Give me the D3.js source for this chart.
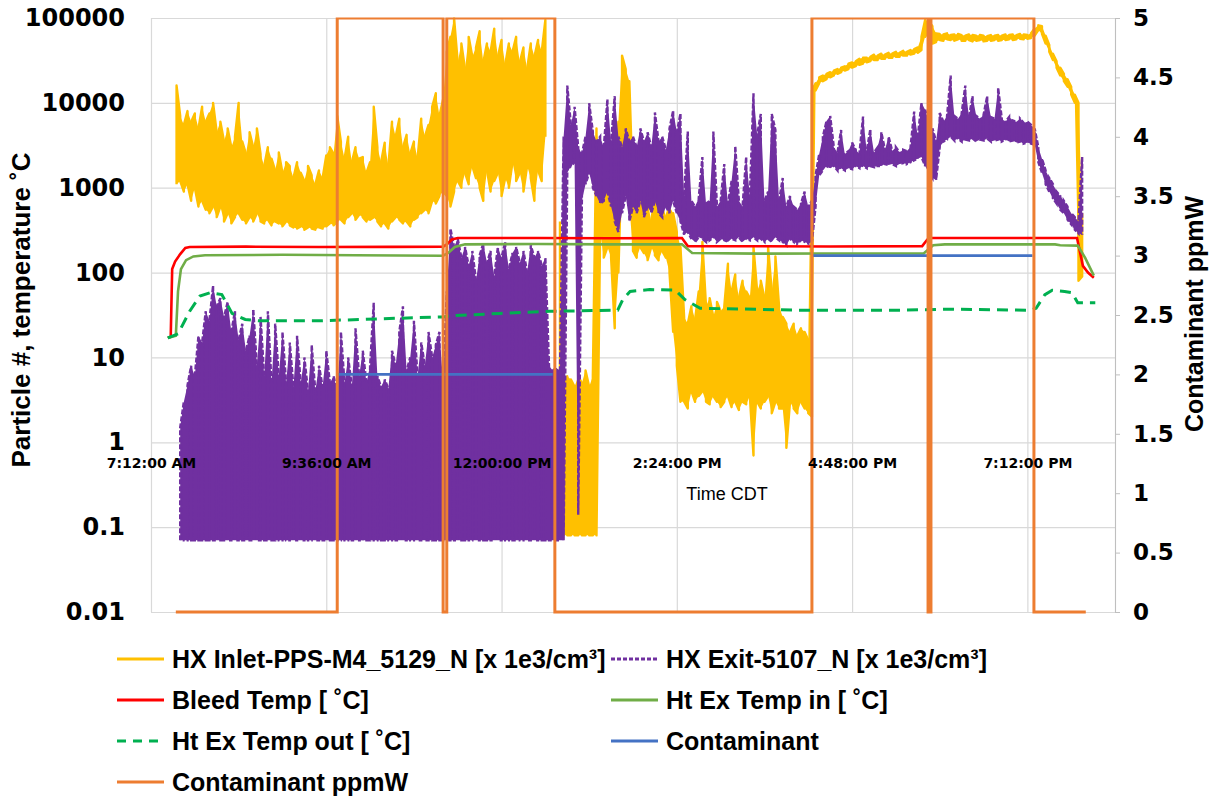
<!DOCTYPE html>
<html><head><meta charset="utf-8">
<script src="https://cdn.jsdelivr.net/npm/d3@7"></script>
<style>
html,body{margin:0;padding:0;background:#fff;}
svg{display:block;}
</style></head>
<body>
<svg id="chart" width="1214" height="800"></svg>
<script>
// ---------------- DATA ----------------
// time in hours of day (CDT)
const xTickValues = [7.2, 9.6, 12.0, 14.4, 16.8, 19.2];
const xTickLabels = ["7:12:00 AM", "9:36:00 AM", "12:00:00 PM", "2:24:00 PM", "4:48:00 PM", "7:12:00 PM"];
const leftTickValues = [0.01, 0.1, 1, 10, 100, 1000, 10000, 100000];
const leftTickLabels = ["0.01", "0.1", "1", "10", "100", "1000", "10000", "100000"];
const rightTickValues = [0, 0.5, 1, 1.5, 2, 2.5, 3, 3.5, 4, 4.5, 5];
const rightTickLabels = ["0", "0.5", "1", "1.5", "2", "2.5", "3", "3.5", "4", "4.5", "5"];

// particle counters, read as (high, low) per 0.05 h sample bin starting at 7.55 h (null = no trace visible)
const binStart = 7.55, binStep = 0.05;
const inletStartBin = 0;
const inletHigh = [
16000,7000,5500,8000,6000,7500,5000,9000,6000,7500,
10000,4500,6000,3500,5000,3000,4000,10000,3500,2500,
4500,3000,5000,2500,1800,3000,2200,1600,2600,1500,
2000,1800,1300,2000,1500,1200,1800,1400,1100,1600,
1300,2400,3000,2500,7000,3500,2200,4000,2000,3000,
2200,2300,1500,2000,9000,3000,2000,3400,1800,6000,
4000,6500,3000,4200,2500,3500,2200,6500,4000,5500,
9000,13000,7000,11000,40000,60000,100000,30000,50000,25000,
60000,35000,45000,70000,30000,50000,40000,75000,35000,55000,
28000,50000,40000,60000,30000,45000,25000,50000,35000,55000,
40000,95000,null,null,null,400,5,6,5.5,4.5,
6,5,7,4.5,6,5000,2000,1500,2500,1200,
1000,6000,36000,25000,18000,800,600,900,500,700,
400,800,550,700,450,600,500,300,200,30,
25,40,28,60,230,40,50,30,45,35,
40,127,60,95,50,80,60,50,200,60,
80,50,200,60,155,40,30,25,20,25,
18,22,20,16,14000,17000,20000,21000,22000,23000,
24000,25000,26000,27000,29000,30000,31000,33000,34000,34000,
35000,37000,36000,38000,37000,39000,38000,40000,39000,41000,
40000,42000,43000,45000,60000,95000,92000,80000,66000,65000,
64000,66000,63000,64000,65000,63000,62000,64000,63000,62000,
63000,62000,61000,63000,62000,63000,62000,64000,63000,64000,
63000,65000,64000,63000,66000,75000,82000,80000,62000,48000,
38000,31000,26000,22000,19000,15500,12500,10000,500];
const inletLow = [
1100,1200,900,1100,700,1000,600,700,550,500,
600,450,600,400,500,380,450,500,420,380,
450,400,500,400,380,420,360,400,380,350,
400,360,340,330,350,320,340,330,320,340,
330,350,380,360,400,420,380,450,500,420,
480,450,400,420,450,400,350,380,330,400,
450,420,380,400,350,420,450,500,550,500,
700,650,800,900,800,600,900,1200,1000,1500,
1100,1800,1300,1000,700,1600,900,1200,1500,800,
1300,1000,2000,1200,1500,900,1800,1300,700,1600,
1200,4000,null,null,null,0.1,0.08,0.08,0.08,0.08,
0.08,0.08,0.08,0.08,0.08,0.08,300,150,200,150,
22,100,3000,1500,600,180,150,200,170,140,
200,160,140,180,150,100,20,8,3,3,
2.5,4,3,3.5,4,3,2.8,3.5,3,2.6,
3,3.5,2.6,3,2.4,3,2.8,3.5,0.7,3,
2.5,3,3.5,2.2,3,2.5,2.5,0.86,3,2.5,
2.2,3,2.5,2.2,2,14000,17000,18000,19000,20000,
21000,22000,23000,24000,25000,26000,27000,28000,29000,30000,
31000,32000,32000,33000,33000,34000,34000,35000,35000,36000,
36000,37000,38000,39000,42000,60000,70000,50000,52000,55000,
54000,56000,55000,54000,56000,54000,54000,55000,53000,54000,
55000,53000,54000,54000,55000,54000,55000,55000,56000,55000,
56000,57000,56000,57000,58000,62000,72000,65000,50000,40000,
32000,26000,21000,18000,15500,12500,10000,80,90];

const exitStartBin = 1;
const exitHigh = [
1.5,3,4.7,8,6,18,15,35,27,70,
40,50,30,45,20,35,16,25,12,18,
37,8,30,6,35,5,25,6,20,5,
15,4.5,18,5,10,4,14,4,8,4.5,
12,5,6,4,20,5,10,4.5,22,6,
12,5,8,44,6,4.5,5.5,4.3,12,8,
20,40,7,10,27,6,15,8,20,10,
14,20,5,60,330,200,250,150,200,120,
180,80,160,220,130,180,90,200,150,230,
110,170,200,130,180,100,210,150,180,120,
150,8,7,7.5,7,4000,16000,5500,9000,3000,
2500,4000,9900,4600,3500,4000,3000,11000,3500,12000,
4000,3000,5000,3500,4000,3000,5000,3500,4500,3000,
7700,3500,4000,2800,5000,8100,4500,7500,800,4600,
700,600,750,2300,650,700,4600,600,700,1900,
650,1200,3100,700,600,2300,800,13000,4200,7400,
700,900,7400,4800,700,1300,600,800,600,550,
650,900,600,700,1400,2500,4000,6100,7000,3000,
2600,4800,2500,2700,3400,2800,2500,6900,2700,4900,
2600,3000,4500,2800,4000,2700,3000,2600,2800,2700,
3000,7900,4000,10000,8300,6000,5000,3500,7600,6000,
7000,21000,7000,6500,7500,16000,6800,12000,7000,6500,
7200,12000,6800,6500,15000,6500,6000,6800,6200,6000,
6500,5800,6000,5500,5000,3000,2200,1600,1300,1100,
900,800,700,600,500,450,400,2300];
const exitLow = [
0.07,0.07,0.07,0.07,0.07,0.07,0.07,0.07,0.07,0.07,
0.07,0.07,0.07,0.07,0.07,0.07,0.07,0.07,0.07,0.07,
0.07,0.07,0.07,0.07,0.07,0.07,0.07,0.07,0.07,0.07,
0.07,0.07,0.07,0.07,0.07,0.07,0.07,0.07,0.07,0.07,
0.07,0.07,0.07,0.07,0.07,0.07,0.07,0.07,0.07,0.07,
0.07,0.07,0.07,0.07,0.07,0.07,0.07,0.07,0.07,0.07,
0.07,0.07,0.07,0.07,0.07,0.07,0.07,0.07,0.07,0.07,
0.07,0.07,0.07,0.07,0.07,0.07,0.07,0.07,0.07,0.07,
0.07,0.07,0.07,0.07,0.07,0.07,0.07,0.07,0.07,0.07,
0.07,0.07,0.07,0.07,0.07,0.07,0.07,0.07,0.07,0.07,
0.07,0.07,0.07,0.07,0.07,0.07,1500,1800,2000,0.14,
700,1100,1500,1000,800,650,700,900,600,400,
300,500,800,400,600,500,700,450,600,500,
700,500,450,600,500,700,500,400,280,300,
250,230,260,250,230,240,260,230,250,240,
230,250,240,260,230,250,240,260,240,250,
230,250,230,260,240,230,210,250,230,220,
240,230,220,230,600,1400,1600,1800,1700,1800,
1600,1700,1600,1700,1650,1800,1700,1800,1700,1800,
1750,1800,1800,1900,1850,1900,1800,1900,1950,1900,
2000,2100,2200,2300,1800,1500,1300,1240,3000,3500,
3700,4000,3600,3800,3500,3700,3600,3800,3500,3700,
3600,3800,3500,3600,3700,3500,3700,3500,3600,3400,
3500,3300,3400,3300,3200,2000,1500,1100,900,750,
650,550,500,420,370,320,290,280];

// temperatures (left axis)
const bleedTime = [7.43,7.47,7.49,7.53,7.60,7.67,7.73,8.5,9.5,10.5,11.20,11.25,11.32,11.40,12.5,13.5,14.47,14.55,15.5,16.5,17.76,17.83,17.89,19.0,19.88,19.96,20.03,20.11];
const bleedTemp = [17,17.5,110,135,165,195,200,202,200,201,202,215,245,255,256,254,255,205,204,203,205,245,256,256,256,120,100,87];
const hxInTime = [7.43,7.54,7.57,7.61,7.68,7.78,7.94,9.0,10.0,11.20,11.27,11.36,11.50,12.5,13.5,14.47,14.61,15.5,16.5,17.78,17.91,18.07,19.0,19.58,19.65,19.89,19.99,20.11];
const hxInTemp = [17,18,60,110,140,155,160,162,160,158,170,200,215,217,215,215,170,167,168,168,210,215,215,215,210,208,150,92];
const hxOutTime = [7.43,7.57,7.73,7.87,8.01,8.17,8.31,8.49,8.69,9.5,10.61,11.20,11.29,11.98,12.66,13.59,13.66,13.76,14.03,14.38,14.51,14.72,16.09,17.46,18.15,19.24,19.32,19.44,19.54,19.71,19.81,19.89,20.13];
const hxOutTemp = [17,19,35,53,58,55,33,28,27,27,29,30,31,33,35,36,48,60,63,62,48,38,36,36,37,36,38,55,62,60,58,44,44];

// contaminant (right axis, ppmW)
const contamTime = [9.75,12.70,12.70,16.25,19.27];
const contamValue = [2,2,null,3,3];
const ppmTime = [7.54,9.75,9.75,11.20,11.20,11.25,11.25,12.73,12.73,16.25,16.25,17.84,17.84,17.88,17.88,19.29,19.29,20.0];
const ppmValue = [0,0,5,5,0,0,5,5,0,0,5,5,0,0,5,5,0,0];

const seriesNames = ["HX Inlet-PPS-M4_5129_N [x 1e3/cm\u00B3]", "HX Exit-5107_N [x 1e3/cm\u00B3]",
  "Bleed Temp [ \u02DAC]", "Ht Ex Temp in [ \u02DAC]", "Ht Ex Temp out [ \u02DAC]", "Contaminant", "Contaminant ppmW"];

// ---------------- CHART ----------------
const svg = d3.select("#chart");
svg.append("rect").attr("width",1214).attr("height",800).attr("fill","#fff");
const L = 151, R = 1115, T = 18, B = 612;
const x = d3.scaleLinear().domain([7.2, 20.4]).range([L, R]);
const yL = d3.scaleLog().domain([0.01, 100000]).range([B, T]);
const yR = d3.scaleLinear().domain([0, 5]).range([B, T]);

const colors = {inlet:"#FFC000", exit:"#7030A0", bleed:"#FF0000", hxin:"#70AD47", hxout:"#00B050", contam:"#4472C4", ppm:"#ED7D31"};
const tickFont = "'DejaVu Sans', sans-serif";
const textFont = "'Liberation Sans', Arial, sans-serif";

// grid
const grid = svg.append("g");
grid.append("g").attr("transform",`translate(${L},0)`)
  .call(d3.axisLeft(yL).tickValues(leftTickValues).tickSize(-(R-L)).tickFormat(""))
  .call(g=>g.select(".domain").remove())
  .call(g=>g.selectAll("line").attr("stroke","#D9D9D9").attr("stroke-width",1.2));
grid.append("g").attr("transform",`translate(0,${B})`)
  .call(d3.axisBottom(x).tickValues(xTickValues.concat([20.4])).tickSize(-(B-T)).tickFormat(""))
  .call(g=>g.select(".domain").remove())
  .call(g=>g.selectAll("line").attr("stroke","#D9D9D9").attr("stroke-width",1.2));

// left axis labels
svg.append("g").attr("transform",`translate(${L},0)`)
  .call(d3.axisLeft(yL).tickValues(leftTickValues).tickSize(0).tickPadding(26).tickFormat((d,i)=>leftTickLabels[i]))
  .call(g=>g.select(".domain").attr("stroke","#D9D9D9"))
  .call(g=>g.selectAll("text").attr("font-family",tickFont).attr("font-weight","bold").attr("font-size",24).attr("fill","#000"));

// right axis
svg.append("g").attr("transform",`translate(${R},0)`)
  .call(d3.axisRight(yR).tickValues(rightTickValues).tickSize(5).tickPadding(13).tickFormat((d,i)=>rightTickLabels[i]))
  .call(g=>g.select(".domain").attr("stroke","#BFBFBF"))
  .call(g=>g.selectAll("line").attr("stroke","#BFBFBF"))
  .call(g=>g.selectAll("text").attr("font-family",tickFont).attr("font-weight","bold").attr("font-size",23).attr("fill","#000"));

// axis titles
svg.append("text").attr("x",727).attr("y",500).attr("text-anchor","middle")
  .attr("font-family",textFont).attr("font-size",18).attr("fill","#000").text("Time CDT");
svg.append("text").attr("transform","translate(30,310) rotate(-90)").attr("text-anchor","middle")
  .attr("font-family",textFont).attr("font-weight","bold").attr("font-size",26).attr("fill","#000")
  .text("Particle #, temperature \u02DAC");
svg.append("text").attr("transform","translate(1203,314) rotate(-90)").attr("text-anchor","middle")
  .attr("font-family",textFont).attr("font-weight","bold").attr("font-size",25).attr("fill","#000")
  .text("Contaminant ppmW");

// clip
svg.append("clipPath").attr("id","plotclip").append("rect").attr("x",L-2).attr("y",T-0.5).attr("width",R-L+4).attr("height",B-T+3);
const plot = svg.append("g").attr("clip-path","url(#plotclip)");

function bins(high, low, startBin){
  return high.map((h,k)=>({t: binStart + binStep*(startBin+k), hi: h, lo: low[k]}));
}
function bandPoints(b){
  const pts = [];
  b.forEach((d,k)=>{
    if(d.hi===null){ pts.push([d.t,null]); return; }
    if(k%2===0){ pts.push([d.t,d.lo],[d.t,d.hi]); } else { pts.push([d.t,d.hi],[d.t,d.lo]); }
  });
  return pts;
}
const lineL = d3.line().defined(d=>d[1]!==null).x(d=>x(d[0])).y(d=>yL(d[1]));
const areaL = d3.area().defined(d=>d.hi!==null).x(d=>x(d.t)).y0(d=>yL(d.lo)).y1(d=>yL(d.hi));
const lineR = d3.line().defined(d=>d[1]!==null).x(d=>x(d[0])).y(d=>yR(d[1]));

const inletBins = bins(inletHigh, inletLow, inletStartBin);
const exitBins = bins(exitHigh, exitLow, exitStartBin);

plot.append("path").attr("d",areaL(inletBins)).attr("fill",colors.inlet).attr("stroke","none");
plot.append("path").attr("d",lineL(bandPoints(inletBins)))
  .attr("fill","none").attr("stroke",colors.inlet).attr("stroke-width",2.4).attr("stroke-linejoin","round");
plot.append("path").attr("d",areaL(exitBins)).attr("fill",colors.exit).attr("stroke","none");
plot.append("path").attr("d",lineL(bandPoints(exitBins)))
  .attr("fill","none").attr("stroke",colors.exit).attr("stroke-width",2.4).attr("stroke-dasharray","5,2");

plot.append("path").attr("d",lineL(bleedTime.map((t,i)=>[t,bleedTemp[i]])))
  .attr("fill","none").attr("stroke",colors.bleed).attr("stroke-width",2.6);
plot.append("path").attr("d",lineL(hxInTime.map((t,i)=>[t,hxInTemp[i]])))
  .attr("fill","none").attr("stroke",colors.hxin).attr("stroke-width",2.6);
plot.append("path").attr("d",lineL(hxOutTime.map((t,i)=>[t,hxOutTemp[i]])))
  .attr("fill","none").attr("stroke",colors.hxout).attr("stroke-width",3).attr("stroke-dasharray","11,7");
plot.append("path").attr("d",lineR(contamTime.map((t,i)=>[t,contamValue[i]])))
  .attr("fill","none").attr("stroke",colors.contam).attr("stroke-width",2.6);
plot.append("path").attr("d",lineR(ppmTime.map((t,i)=>[t,ppmValue[i]])))
  .attr("fill","none").attr("stroke",colors.ppm).attr("stroke-width",3);

// bottom axis at y = 1 (labels drawn over the data, as in the original)
svg.append("g").attr("transform",`translate(0,${yL(1)})`)
  .call(d3.axisBottom(x).tickValues(xTickValues).tickSize(0).tickPadding(16).tickFormat((d,i)=>xTickLabels[i]))
  .call(g=>g.select(".domain").attr("stroke-opacity",0))
  .call(g=>g.selectAll("text").attr("font-family",tickFont).attr("font-weight","bold").attr("font-size",14).attr("fill","#000"));

// legend
const legendItems = [
  {name:seriesNames[0], color:colors.inlet, dash:null, col:0, row:0},
  {name:seriesNames[1], color:colors.exit, dash:"4,2", col:1, row:0},
  {name:seriesNames[2], color:colors.bleed, dash:null, col:0, row:1},
  {name:seriesNames[3], color:colors.hxin, dash:null, col:1, row:1},
  {name:seriesNames[4], color:colors.hxout, dash:"9,7", col:0, row:2},
  {name:seriesNames[5], color:colors.contam, dash:null, col:1, row:2},
  {name:seriesNames[6], color:colors.ppm, dash:null, col:0, row:3}
];
const colX = [117, 611], rowY = [659, 700, 741, 782];
const leg = svg.append("g");
legendItems.forEach(it=>{
  const gx = colX[it.col], gy = rowY[it.row];
  leg.append("line").attr("x1",gx).attr("x2",gx+47).attr("y1",gy).attr("y2",gy)
    .attr("stroke",it.color).attr("stroke-width",3).attr("stroke-dasharray",it.dash);
  leg.append("text").attr("x",gx+55).attr("y",gy+8.8)
    .attr("font-family",textFont).attr("font-weight","bold").attr("font-size",25).attr("fill","#000").text(it.name);
});
</script>
</body></html>
